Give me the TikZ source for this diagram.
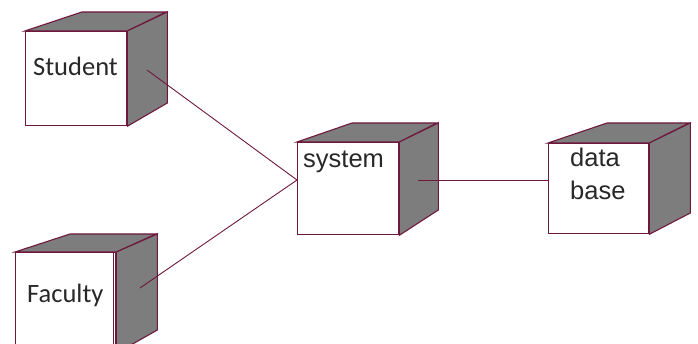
\documentclass[tikz,border=0pt]{standalone}
\usepackage{fontspec}
\setmainfont{Liberation Sans}
\newfontfamily\calib{Carlito}
\definecolor{edge}{RGB}{110,25,60}
\definecolor{shade}{RGB}{125,125,125}
\definecolor{ink}{RGB}{40,40,40}
\begin{document}
\begin{tikzpicture}[x=1pt,y=-1pt,
  front/.style={draw=edge, line width=1.3pt, fill=white, anchor=north west, inner sep=0pt},
  side/.style={draw=edge, line width=1.1pt, fill=shade, line join=miter},
  conn/.style={draw=edge, line width=0.9pt},
  lbl/.style={anchor=base west, inner sep=0pt, text=ink, font=\fontsize{25.5}{30}\selectfont},
  clbl/.style={anchor=base west, inner sep=0pt, text=ink, font=\calib\fontsize{26.5}{30}\selectfont}]
\useasboundingbox (0,0) rectangle (698,344);
% Student
\node[front, minimum width=101pt, minimum height=94pt] (student) at (25,31) {};
\draw[side] (student.north west) -- ++(57,-19) -- ++(84,0) -- (student.north east) -- cycle;
\draw[side] (student.north east) -- ++(40,-19) -- ++(0,91) -- (student.south east) -- cycle;
\node[clbl] (studenttext) at (33,76) {Student};
% Faculty
\node[front, minimum width=100pt, minimum height=100pt] (faculty) at (15,252) {};
\draw[side] (faculty.north west) -- ++(55,-18) -- ++(86,0) -- (faculty.north east) -- cycle;
\draw[side] (faculty.north east) -- ++(41,-18) -- ++(0,96) -- (faculty.south east) -- cycle;
\draw[edge, line width=0.8pt] ([xshift=-3pt]faculty.north east) -- ([xshift=-3pt]faculty.south east);
\node[clbl] (facultytext) at (27,303) {Faculty};
% System
\node[front, minimum width=101pt, minimum height=92pt] (system) at (297,142) {};
\draw[side] (system.north west) -- ++(55,-19) -- ++(85,0) -- (system.north east) -- cycle;
\draw[side] (system.north east) -- ++(39,-19) -- ++(0,87) -- (system.south east) -- cycle;
\node[lbl] (systemtext) at (303,168) {system};
% Database
\node[front, minimum width=100pt, minimum height=90pt] (db) at (548,143) {};
\draw[side] (db.north west) -- ++(59,-20) -- ++(82,0) -- (db.north east) -- cycle;
\draw[side] (db.north east) -- ++(41,-20) -- ++(0,90) -- (db.south east) -- cycle;
\node[lbl] (dbtext1) at (570,167) {data};
\node[lbl] (dbtext2) at (570,200) {base};
% connectors
\coordinate (s1) at (147,70);
\coordinate (f1) at (140,288);
\coordinate (sysin) at (297,180);
\coordinate (sysout) at (418,180);
\coordinate (dbin) at (db.west |- sysout);
\draw[conn] (s1) -- (sysin);
\draw[conn] (f1) -- (sysin);
\draw[conn] (sysout) -- (dbin);
\end{tikzpicture}
\end{document}
